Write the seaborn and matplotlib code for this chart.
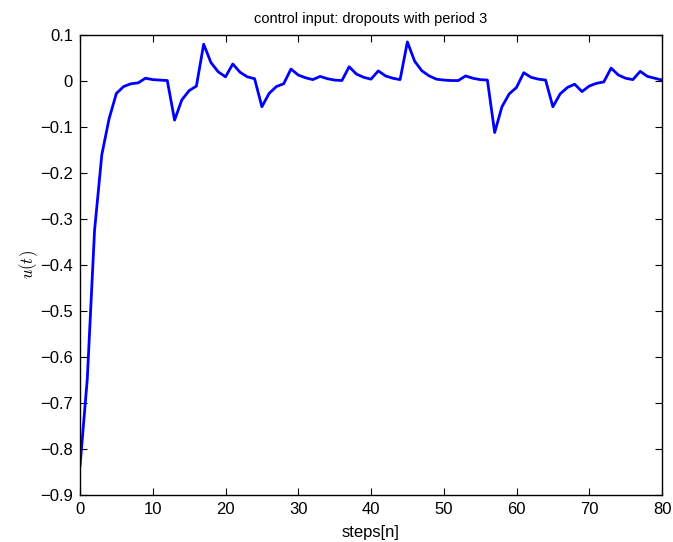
import matplotlib
matplotlib.use("Agg")
import matplotlib.pyplot as plt
import seaborn as sns
import pandas as pd
import numpy as np

steps = list(range(0, 81))
u_values = [
    -0.838, -0.648, -0.325, -0.160, -0.082, -0.027, -0.012, -0.006, -0.004, 0.006,
    0.003, 0.002, 0.001, -0.085, -0.041, -0.021, -0.011, 0.080, 0.040, 0.020,
    0.009, 0.037, 0.019, 0.009, 0.005, -0.056, -0.027, -0.012, -0.006, 0.026,
    0.013, 0.007, 0.003, 0.010, 0.005, 0.002, 0.001, 0.031, 0.015, 0.008,
    0.004, 0.022, 0.011, 0.006, 0.003, 0.085, 0.043, 0.022, 0.011, 0.004,
    0.002, 0.001, 0.001, 0.011, 0.006, 0.003, 0.002, -0.112, -0.056, -0.028,
    -0.014, 0.018, 0.008, 0.004, 0.002, -0.056, -0.028, -0.014, -0.007, -0.023,
    -0.011, -0.005, -0.002, 0.028, 0.013, 0.006, 0.003, 0.021, 0.010, 0.006,
    0.002,
]
x_ticks = [0, 10, 20, 30, 40, 50, 60, 70, 80]
y_ticks = [-0.9, -0.8, -0.7, -0.6, -0.5, -0.4, -0.3, -0.2, -0.1, 0, 0.1]
y_tick_labels = ["\u22120.9", "\u22120.8", "\u22120.7", "\u22120.6", "\u22120.5",
                 "\u22120.4", "\u22120.3", "\u22120.2", "\u22120.1", "0", "0.1"]

df = pd.DataFrame({"steps": steps, "u": u_values})

sns.set_theme(style="white")
plt.rcParams["font.family"] = ["Liberation Sans", "DejaVu Sans"]
plt.rcParams["mathtext.fontset"] = "cm"

fig = plt.figure(figsize=(6.73, 5.42), dpi=100)
ax = fig.add_axes([80 / 673, 1 - 495 / 542, (662 - 80) / 673, (495 - 35) / 542])

sns.lineplot(data=df, x="steps", y="u", ax=ax, color="#0000ff", linewidth=2.0)

ax.set_xlim(0, 80)
ax.set_ylim(-0.9, 0.1)
ax.set_xticks(x_ticks)
ax.set_xticklabels([str(t) for t in x_ticks])
ax.set_yticks(y_ticks)
ax.set_yticklabels(y_tick_labels)
ax.tick_params(direction="in", length=5, width=0.8, color="black",
               labelsize=12, labelcolor="black", top=True, right=True,
               bottom=True, left=True, pad=5)
for s in ax.spines.values():
    s.set_visible(True)
    s.set_color("black")
    s.set_linewidth(1.0)

ax.set_xlabel("steps[n]", fontsize=12, color="black", labelpad=5.5)
ax.set_ylabel("$u(t)$", fontsize=12, color="black", labelpad=0)
ax.set_title("control input: dropouts with period 3", fontsize=10.5, color="black", pad=9)

fig.savefig("out.png", dpi=100, facecolor="white")
